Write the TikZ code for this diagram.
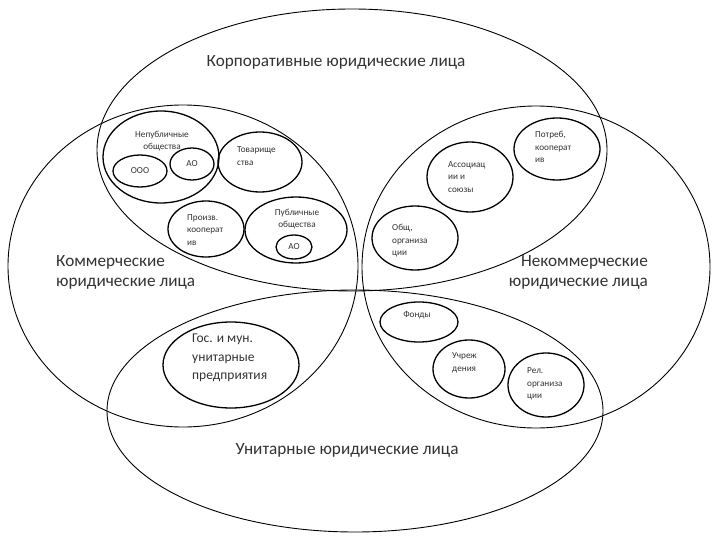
\documentclass[tikz,border=0pt]{standalone}
\usepackage{fontspec}
\setmainfont{Carlito}
\usetikzlibrary{shapes.geometric}

\begin{document}
\begin{tikzpicture}[x=1pt,y=-1pt,
  blob/.style={draw,ellipse,line width=1.3pt,inner sep=0pt},
  tiny/.style={font=\fontsize{9.2}{12.5}\selectfont,inner sep=0pt,text=black!80},
  mid/.style={font=\fontsize{13.5}{18.5}\selectfont,inner sep=0pt,text=black!80},
  big/.style={font=\fontsize{17.2}{20}\selectfont,inner sep=0pt,text=black!80}]
  \useasboundingbox[fill=white] (0,0) rectangle (720,540);
  \draw[line width=0.9pt] (352,150) ellipse [x radius=255pt, y radius=141pt];
  \draw[line width=0.9pt] (183,266) ellipse [x radius=175pt, y radius=161pt];
  \draw[line width=0.9pt] (536,267) ellipse [x radius=174pt, y radius=161pt];
  \draw[line width=0.9pt] (355,411) ellipse [x radius=248pt, y radius=121pt];
  \node[big] (korp) at (336,62) {Корпоративные юридические лица};
  \node[big,align=left,anchor=west] (komm) at (56,272) {Коммерческие\\юридические лица};
  \node[big,align=right,anchor=east] (nekomm) at (648,272) {Некоммерческие\\юридические лица};
  \node[big] (unit) at (347,450) {Унитарные юридические лица};
  \node[blob,minimum width=116pt,minimum height=92pt] (nepub) at (161,157) {};
  \node[blob,minimum width=54pt,minimum height=32pt] (ooo) at (140,171) {};
  \node[blob,minimum width=44pt,minimum height=32pt] (ao-nepub) at (192,164) {};
  \node[blob,minimum width=84pt,minimum height=60pt] (tov) at (260,162) {};
  \node[blob,minimum width=76pt,minimum height=56pt] (proizv) at (206,229) {};
  \node[blob,minimum width=102pt,minimum height=66pt] (publ) at (296,230) {};
  \node[blob,minimum width=36pt,minimum height=24pt] (ao-publ) at (294,247) {};
  \node[blob,minimum width=86pt,minimum height=70pt] (assoc) at (470,177) {};
  \node[blob,minimum width=86pt,minimum height=62pt] (potreb) at (557,149) {};
  \node[blob,minimum width=86pt,minimum height=64pt] (obsh) at (415,238) {};
  \node[blob,minimum width=136pt,minimum height=86pt] (gos) at (231,365) {};
  \node[blob,minimum width=78pt,minimum height=40pt] (fond) at (419,322) {};
  \node[blob,minimum width=72pt,minimum height=58pt] (uchr) at (469,369) {};
  \node[blob,minimum width=76pt,minimum height=64pt] (rel) at (546,385) {};
  \node[tiny,align=center] (t-nepub) at (162,141) {Непубличные\\общества};
  \node[tiny] (t-ooo) at (140,171) {ООО};
  \node[tiny] (t-ao-nepub) at (192,164) {АО};
  \node[tiny,align=left,anchor=west] (t-tov) at (237,156) {Товарище\\ства};
  \node[tiny,align=left,anchor=west] (t-proizv) at (187,230) {Произв.\\кооперат\\ив};
  \node[tiny,align=center] (t-publ) at (297,219) {Публичные\\общества};
  \node[tiny] (t-ao-publ) at (294,247) {АО};
  \node[tiny,align=left,anchor=west] (t-assoc) at (448,177) {Ассоциац\\ии и\\союзы};
  \node[tiny,align=left,anchor=west] (t-potreb) at (535,147) {Потреб,\\кооперат\\ив};
  \node[tiny,align=left,anchor=west] (t-obsh) at (392,241) {Общ,\\организа\\ции};
  \node[mid,align=left,anchor=west] (t-gos) at (192,358) {Гос. и мун.\\унитарные\\предприятия};
  \node[tiny] (t-fond) at (417,315) {Фонды};
  \node[tiny,align=left,anchor=west] (t-uchr) at (452,363) {Учреж\\дения};
  \node[tiny,align=left,anchor=west] (t-rel) at (527,384) {Рел.\\организа\\ции};
\end{tikzpicture}
\end{document}
